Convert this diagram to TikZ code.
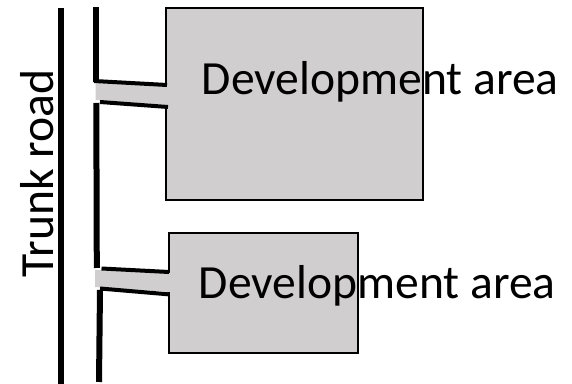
\documentclass[tikz,border=0pt]{standalone}
\usepackage{fontspec}
\setmainfont{Carlito}
\definecolor{areagrey}{RGB}{208,206,206}
\begin{document}
\begin{tikzpicture}[x=0.75pt,y=-0.75pt,
  road/.style={line width=4.5pt,black},
  link/.style={line width=3pt,black},
  areabox/.style={draw=black,line width=1.5pt,fill=areagrey},
  lbl/.style={inner sep=0pt,font=\fontsize{35.7}{40}\selectfont}]
\useasboundingbox (0,0) rectangle (572,384);
% development areas
\draw[areabox] (165.7,8) rectangle (423,200.5);
\draw[areabox] (169,233.3) rectangle (358,353);
% grey access bands
\fill[areagrey] (95.5,83) -- (167,86.5) -- (167,105) -- (95.5,100) -- cycle;
\fill[areagrey] (95,270) -- (170,273) -- (170,292) -- (95,287) -- cycle;
% coordinates
\coordinate (t1) at (61,8);
\coordinate (t2) at (61,384);
\coordinate (a1) at (96.3,7);
\coordinate (a2) at (96.3,82);
\coordinate (b1) at (96.3,103);
\coordinate (b2) at (96.8,268);
\coordinate (c1) at (100,290);
\coordinate (c2) at (99,382);
\coordinate (u1) at (94,81);
\coordinate (u2) at (167,85);
\coordinate (v1) at (100,102);
\coordinate (v2) at (168,107);
\coordinate (w1) at (101.5,268.5);
\coordinate (w2) at (169,272);
\coordinate (z1) at (100,288.5);
\coordinate (z2) at (168,294.3);
% roads
\draw[road] (t1) -- (t2);
\draw[road] (a1) -- (a2);
\draw[road] (b1) -- (b2);
\draw[road] (c1) -- (c2);
% access links
\draw[link] (u1) -- (u2);
\draw[link] (v1) -- (v2);
\draw[link] (w1) -- (w2);
\draw[link] (z1) -- (z2);
% labels
\node[lbl,anchor=base west] (dev1) at (201.5,95) {Development area};
\node[lbl,anchor=base west] (dev2) at (198.5,299) {Development area};
\node[lbl,anchor=base west,rotate=90] (trunk) at (53,278) {Trunk road};
\end{tikzpicture}
\end{document}
